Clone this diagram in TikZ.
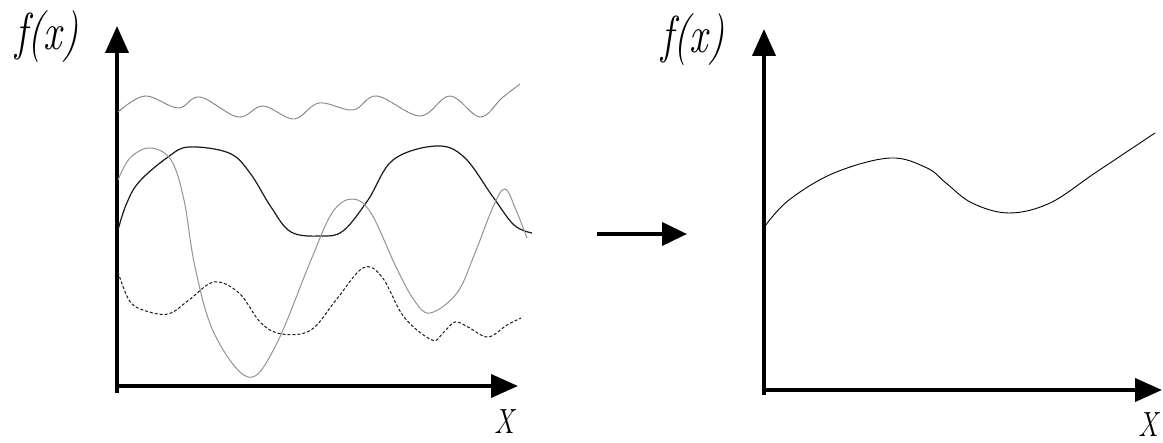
\documentclass[tikz,border=0pt]{standalone}
\usepackage{fontspec}
\usetikzlibrary{arrows.meta}
\tikzset{
  axis/.style={line width=4pt,-{Triangle[length=27pt,width=23pt]}},
  bigarrow/.style={line width=4pt,-{Triangle[length=25pt,width=23pt]}},
  dotcurve/.style={gray,line width=1pt,dash pattern=on 1pt off 0.4pt},
  blackcurve/.style={black!90,line width=1.2pt},
  graycurve/.style={gray!85,line width=1pt},
  dashcurve/.style={black!90,line width=1pt,dash pattern=on 3pt off 2pt},
  rightcurve/.style={black,line width=0.9pt},
  flabel/.style={inner sep=0pt},
}
\newcommand{\fxlabel}{\scalebox{0.78}[1]{\fontsize{52}{54}\selectfont\itshape f(x)}}
\newcommand{\xlabel}{\scalebox{0.78}[1]{\fontsize{35}{40}\selectfont\itshape X}}
\begin{document}
\begin{tikzpicture}[x=1pt,y=-1pt]
\useasboundingbox (0,0) rectangle (1163,443);
% left axes
\coordinate (lo1) at (117,393);
\coordinate (ly) at (117,26);
\coordinate (lo2) at (115,386);
\coordinate (lx) at (518,386);
\draw[axis] (lo1) -- (ly);
\draw[axis] (lo2) -- (lx);
\node[flabel] (lfx) at (47,37) {\fxlabel};
\node[flabel] (lX) at (504,422) {\xlabel};
% curves left
\draw[dotcurve] plot[smooth,tension=0.6] coordinates {(118,112) (145,96) (178,108) (200,97) (238,117) (263,106) (294,119) (319,103) (353,110) (377,96) (420,116) (450,96) (480,117) (502,98) (520,84)};
\draw[blackcurve] plot[smooth,tension=0.6] coordinates {(118,230) (126,205) (139,182) (168,157) (189,147) (229,153) (250,173) (271,207) (291,232) (321,236) (343,231) (368,200) (393,160) (436,146) (464,157) (493,197) (514,225) (532,233)};
\draw[graycurve] plot[smooth,tension=0.6] coordinates {(118,180) (130,158) (150,148) (171,160) (184,200) (195,267) (214,333) (248,377) (275,347) (311,260) (332,213) (352,199) (371,213) (396,267) (414,300) (430,313) (457,293) (475,253) (493,207) (505,189) (516,210) (527,238)};
\draw[dashcurve] plot[smooth,tension=0.6] coordinates {(118,272) (129,300) (143,310) (168,314) (189,300) (214,282) (239,293) (261,323) (282,334) (311,330) (336,300) (363,268) (382,277) (404,317) (432,340) (443,333) (455,322) (468,327) (488,337) (507,325) (521,318)};
% middle arrow
\coordinate (ma) at (597,234);
\coordinate (mb) at (687,234);
\draw[bigarrow] (ma) -- (mb);
% right axes
\coordinate (ro1) at (764,395);
\coordinate (ry) at (764,29);
\coordinate (ro2) at (762,390);
\coordinate (rx) at (1162,390);
\draw[axis] (ro1) -- (ry);
\draw[axis] (ro2) -- (rx);
\node[flabel] (rfx) at (693,40) {\fxlabel};
\node[flabel] (rX) at (1148,425) {\xlabel};
\draw[rightcurve] plot[smooth,tension=0.6] coordinates {(765,226) (789,200) (834,173) (890,158) (927,168) (946,183) (972,203) (1009,213) (1050,203) (1095,173) (1155,133)};
\end{tikzpicture}
\end{document}
